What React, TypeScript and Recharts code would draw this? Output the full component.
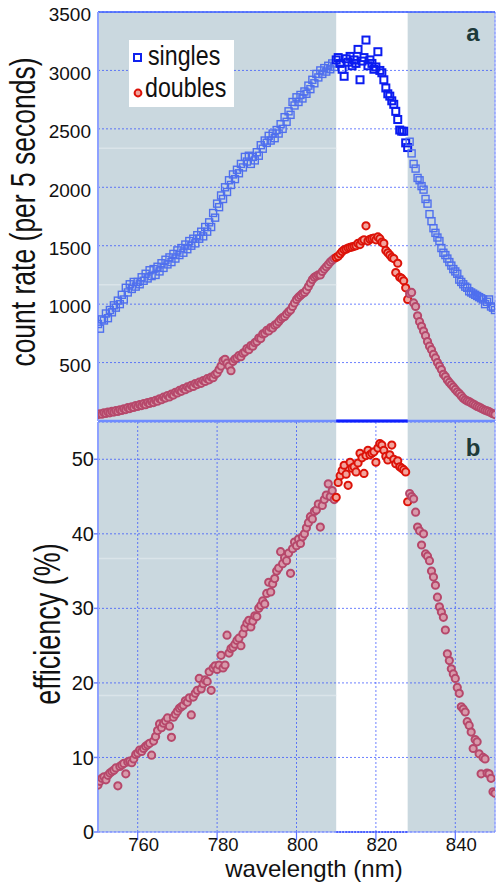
import React from 'react';
import {
  ScatterChart,
  Scatter,
  XAxis,
  YAxis,
  CartesianGrid,
  ReferenceArea,
  ReferenceLine,
} from 'recharts';

// wavelength in nm, one reading every half nm
const wavelength = [
  750, 750.5, 751, 751.5, 752, 752.5, 753, 753.5, 754, 754.5,
  755, 755.5, 756, 756.5, 757, 757.5, 758, 758.5, 759, 759.5,
  760, 760.5, 761, 761.5, 762, 762.5, 763, 763.5, 764, 764.5,
  765, 765.5, 766, 766.5, 767, 767.5, 768, 768.5, 769, 769.5,
  770, 770.5, 771, 771.5, 772, 772.5, 773, 773.5, 774, 774.5,
  775, 775.5, 776, 776.5, 777, 777.5, 778, 778.5, 779, 779.5,
  780, 780.5, 781, 781.5, 782, 782.5, 783, 783.5, 784, 784.5,
  785, 785.5, 786, 786.5, 787, 787.5, 788, 788.5, 789, 789.5,
  790, 790.5, 791, 791.5, 792, 792.5, 793, 793.5, 794, 794.5,
  795, 795.5, 796, 796.5, 797, 797.5, 798, 798.5, 799, 799.5,
  800, 800.5, 801, 801.5, 802, 802.5, 803, 803.5, 804, 804.5,
  805, 805.5, 806, 806.5, 807, 807.5, 808, 808.5, 809, 809.5,
  810, 810.5, 811, 811.5, 812, 812.5, 813, 813.5, 814, 814.5,
  815, 815.5, 816, 816.5, 817, 817.5, 818, 818.5, 819, 819.5,
  820, 820.5, 821, 821.5, 822, 822.5, 823, 823.5, 824, 824.5,
  825, 825.5, 826, 826.5, 827, 827.5, 828, 828.5, 829, 829.5,
  830, 830.5, 831, 831.5, 832, 832.5, 833, 833.5, 834, 834.5,
  835, 835.5, 836, 836.5, 837, 837.5, 838, 838.5, 839, 839.5,
  840, 840.5, 841, 841.5, 842, 842.5, 843, 843.5, 844, 844.5,
  845, 845.5, 846, 846.5, 847, 847.5, 848, 848.5, 849, 849.5,
  850,
];

// counts per 5 s
const singles = [
  830, 790, 870, 860, 920, 880, 950, 930, 990, 970,
  1030, 1000, 1080, 1040, 1140, 1100, 1170, 1130, 1190, 1150,
  1190, 1170, 1230, 1200, 1260, 1220, 1290, 1240, 1300, 1250,
  1320, 1280, 1350, 1310, 1380, 1340, 1400, 1360, 1430, 1390,
  1460, 1420, 1480, 1440, 1510, 1470, 1540, 1500, 1560, 1520,
  1590, 1560, 1620, 1580, 1660, 1620, 1700, 1660, 1780, 1740,
  1860, 1830, 1930, 1900, 2000, 1960, 2060, 2020, 2110, 2070,
  2150, 2120, 2200, 2170, 2260, 2220, 2270, 2200, 2260, 2230,
  2300, 2270, 2360, 2330, 2400, 2380, 2440, 2400, 2460, 2420,
  2490, 2460, 2540, 2500, 2600, 2560, 2650, 2620, 2730, 2700,
  2770, 2730, 2790, 2760, 2820, 2800, 2870, 2840, 2920, 2890,
  2970, 2940, 3000, 2970, 3020, 2990, 3040, 3010, 3060, 3030,
  3090, 3110, 3060, 3010, 2950, 3100, 3070, 3120, 3040, 3090,
  3060, 3180, 2920, 3080, 3110, 3260, 3040, 3090, 3060, 3010,
  3030, 3160, 3000, 2980, 2920, 2850, 2800, 2780, 2740, 2710,
  2650, 2580, 2490, 2480, 2480, 2380, 2340, 2390, 2290, 2200,
  2160, 2080, 2060, 2010, 1980, 1900, 1860, 1770, 1710, 1650,
  1610, 1570, 1540, 1480, 1440, 1420, 1390, 1360, 1330, 1300,
  1280, 1260, 1210, 1190, 1170, 1150, 1140, 1110, 1100, 1090,
  1080, 1070, 1060, 1050, 1040, 1000, 1020, 1040, 980, 970,
  950,
];

const doubles = [
  55, 62, 58, 70, 64, 76, 70, 82, 76, 88,
  82, 96, 90, 104, 98, 114, 106, 122, 116, 132,
  124, 140, 132, 148, 140, 158, 150, 166, 158, 176,
  170, 190, 182, 204, 196, 218, 206, 230, 222, 246,
  240, 262, 254, 278, 268, 292, 284, 306, 296, 320,
  312, 332, 322, 346, 338, 362, 352, 376, 370, 398,
  410, 440, 470, 515, 528, 495, 470, 430, 510, 530,
  540, 560, 550, 580, 590, 620, 610, 645, 640, 670,
  680, 710, 705, 745, 750, 775, 770, 800, 795, 820,
  830, 850, 870, 885, 895, 915, 935, 950, 980, 1010,
  1040, 1060, 1075, 1090, 1100, 1120, 1150, 1180, 1210, 1230,
  1240, 1250, 1250, 1280, 1300, 1320, 1340, 1360, 1375, 1390,
  1400, 1410, 1430, 1450, 1465, 1470, 1480, 1485, 1490, 1495,
  1500, 1520, 1510, 1540, 1550, 1670, 1540, 1555, 1560, 1565,
  1550, 1575, 1560, 1530, 1520, 1460, 1440, 1420, 1400, 1390,
  1270, 1350, 1230, 1220, 1200, 1140, 1040, 1090, 1100, 1010,
  980, 900, 850, 810, 770, 730, 680, 640, 610, 570,
  540, 500, 470, 440, 400, 380, 350, 330, 310, 290,
  270, 250, 235, 215, 195, 182, 172, 165, 155, 145,
  135, 125, 118, 110, 100, 92, 86, 80, 70, 62,
  55,
];

// percent
const efficiency = [
  6.3, 6.8, 7.2, 7.4, 7.0, 7.6, 7.9, 8.1, 8.3, 8.6,
  6.2, 8.8, 9.0, 9.2, 7.8, 9.4, 9.5, 9.3, 9.8, 10.4,
  10.6, 11.0, 10.8, 11.2, 11.5, 11.7, 11.9, 10.3, 12.2, 12.8,
  13.6, 14.5, 14.0, 14.6, 14.9, 15.3, 14.2, 12.7, 15.4, 15.8,
  16.2, 16.6, 16.8, 17.0, 17.6, 17.4, 18.0, 15.7, 18.1, 18.6,
  19.0, 20.6, 19.2, 19.9, 20.4, 20.2, 21.5, 19.0, 22.0, 22.3,
  21.8, 22.4, 23.7, 22.0, 22.4, 26.4, 24.0, 24.6, 24.8, 25.2,
  25.7, 26.0, 25.0, 26.6, 27.4, 28.0, 28.4, 27.5, 28.3, 29.0,
  28.9, 30.0, 30.4, 31.0, 30.6, 32.0, 33.5, 32.2, 33.3, 34.0,
  35.0, 35.4, 37.6, 36.0, 36.8, 36.4, 37.4, 34.7, 38.0, 38.9,
  38.4, 39.3, 38.7, 39.6, 40.0, 40.8, 41.5, 42.3, 42.0, 43.0,
  43.2, 44.0, 40.9, 43.8, 44.6, 45.2, 46.7, 45.0, 45.8, 44.6,
  44.9, 46.9, 47.8, 48.5, 49.2, 48.0, 46.5, 49.6, 48.8, 49.0,
  48.3, 49.5, 50.8, 50.2, 48.1, 50.5, 51.2, 50.6, 50.8, 51.0,
  49.6, 51.5, 52.1, 51.9, 51.2, 50.4, 49.9, 50.6, 51.9, 50.0,
  49.4, 49.8, 49.0, 48.8, 48.6, 48.3, 44.3, 45.4, 45.0, 44.7,
  42.9, 40.9, 40.4, 38.5, 40.0, 37.3, 37.0, 36.4, 35.0, 34.2,
  33.1, 31.5, 30.2, 29.5, 28.8, 27.1, 23.9, 23.0, 21.9, 21.2,
  20.6, 19.4, 18.6, 16.8, 16.5, 16.1, 14.8, 14.3, 13.4, 11.2,
  12.4, 12.1, 10.5, 7.8, 10.0, 9.8, 7.9, 7.8, 7.2, 5.4,
  5.2,
];

const xTicks = [760, 780, 800, 820, 840];
const countTicks = [500, 1000, 1500, 2000, 2500, 3000, 3500];
const effTicks = [0, 10, 20, 30, 40, 50];
const band = [810, 828]; // unshaded window

const singlesData = wavelength.map((x, i) => ({ x, y: singles[i] }));
const doublesData = wavelength.map((x, i) => ({ x, y: doubles[i] }));
const effData = wavelength.map((x, i) => ({ x, y: efficiency[i] }));

const FONT = '"Liberation Sans", Arial, Helvetica, sans-serif';
const SHADE = '#cad8df';
const GRID = '#2f4cff';
const FAINT = '#dae4e9';

const inBand = (x: number) => x >= band[0] && x <= band[1];

function SquareDot(props: any) {
  const { cx, cy, payload } = props;
  if (cx == null || cy == null) return null;
  const hot = inBand(payload.x);
  return (
    <rect
      x={cx - 3.5}
      y={cy - 3.5}
      width={7}
      height={7}
      fill="none"
      stroke={hot ? '#0b1cf0' : '#4f6fee'}
      strokeWidth={hot ? 2 : 1.4}
    />
  );
}

function RingDot(props: any) {
  const { cx, cy, payload } = props;
  if (cx == null || cy == null) return null;
  const hot = inBand(payload.x);
  return (
    <circle
      cx={cx}
      cy={cy}
      r={3.6}
      fill={hot ? '#f2a49c' : '#d89aab'}
      stroke={hot ? '#dc1309' : '#b6486b'}
      strokeWidth={2}
    />
  );
}

const CountTick = ({ x, y, payload }: any) => (
  <text x={x} y={y + 2.5} dy="0.355em" textAnchor="end" fontSize={19} fill="#111" fontFamily={FONT}>
    {payload.value}
  </text>
);

const EffTick = ({ x, y, payload }: any) => (
  <text x={x} y={y} dy="0.355em" textAnchor="end" fontSize={20} fill="#111" fontFamily={FONT}>
    {payload.value}
  </text>
);

const WaveTick = ({ x, y, payload }: any) => (
  <text x={x + 6} y={y - 2.5} dy="0.71em" textAnchor="middle" fontSize={18.5} fill="#111" fontFamily={FONT}>
    {payload.value}
  </text>
);

export default function App() {
  return (
    <div
      style={{
        position: 'absolute',
        left: 0,
        top: 0,
        width: 499,
        height: 882,
        background: '#fff',
        overflow: 'hidden',
        fontFamily: FONT,
      }}
    >
      {/* panel b (drawn first so panel a's divider sits on top) */}
      <div style={{ position: 'absolute', left: 0, top: 420 }}>
        <ScatterChart width={499} height={462} margin={{ top: 2, right: 4, bottom: 0, left: 0 }}>
          <ReferenceArea x1={750} x2={band[0]} y1={0} y2={55} fill={SHADE} fillOpacity={1} stroke="none" zIndex={-200} />
          <ReferenceArea x1={band[1]} x2={850} y1={0} y2={55} fill={SHADE} fillOpacity={1} stroke="none" zIndex={-200} />
          <ReferenceLine segment={[{ x: 750, y: 18.3 }, { x: band[0], y: 18.3 }]} stroke={FAINT} strokeWidth={1.5} zIndex={-150} />
          <ReferenceLine segment={[{ x: 750, y: 36.7 }, { x: band[0], y: 36.7 }]} stroke={FAINT} strokeWidth={1.5} zIndex={-150} />
          <CartesianGrid stroke={GRID} strokeOpacity={0.7} strokeDasharray="2 2" />
          <XAxis
            type="number"
            dataKey="x"
            domain={[750, 850]}
            ticks={xTicks}
            height={50}
            tickSize={8}
            tickMargin={0}
            tick={WaveTick}
            axisLine={{ stroke: '#7f92ff', strokeWidth: 1.2 }}
            tickLine={{ stroke: '#5d72ff', strokeWidth: 1.2 }}
            allowDataOverflow
          />
          <YAxis
            type="number"
            dataKey="y"
            domain={[0, 55]}
            ticks={effTicks}
            width={98}
            tickSize={4}
            tickMargin={0}
            tick={EffTick}
            axisLine={{ stroke: '#8ea1ff', strokeWidth: 2 }}
            tickLine={{ stroke: '#6f86ff', strokeWidth: 1.5 }}
            allowDataOverflow
          />
          <ReferenceLine x={850} stroke="#9fb0ff" strokeWidth={1.2} />
          <ReferenceLine
            segment={[{ x: band[0], y: 0 }, { x: band[1], y: 0 }]}
            stroke="#1a2dff"
            strokeWidth={2}
            strokeDasharray="2 1"
          />
          <Scatter data={effData} shape={RingDot} isAnimationActive={false} />
        </ScatterChart>
      </div>

      {/* panel a */}
      <div style={{ position: 'absolute', left: 0, top: 0 }}>
        <ScatterChart width={499} height={424} margin={{ top: 0, right: 4, bottom: 3, left: 0 }}>
          <ReferenceArea x1={750} x2={band[0]} y1={0} y2={3500} fill={SHADE} fillOpacity={1} stroke="none" zIndex={-200} />
          <ReferenceArea x1={band[1]} x2={850} y1={0} y2={3500} fill={SHADE} fillOpacity={1} stroke="none" zIndex={-200} />
          <ReferenceLine segment={[{ x: 750, y: 1167 }, { x: band[0], y: 1167 }]} stroke={FAINT} strokeWidth={1.5} zIndex={-150} />
          <ReferenceLine segment={[{ x: 750, y: 2333 }, { x: band[0], y: 2333 }]} stroke={FAINT} strokeWidth={1.5} zIndex={-150} />
          <CartesianGrid stroke={GRID} strokeOpacity={0.7} strokeDasharray="2 2" />
          <XAxis
            type="number"
            dataKey="x"
            orientation="top"
            domain={[750, 850]}
            ticks={xTicks}
            height={12}
            tickSize={7}
            tick={false}
            axisLine={{ stroke: '#3a5cff', strokeWidth: 1.5 }}
            tickLine={{ stroke: '#3a5cff', strokeWidth: 1.5 }}
            allowDataOverflow
          />
          <YAxis
            type="number"
            dataKey="y"
            domain={[0, 3500]}
            ticks={countTicks}
            width={98}
            tickSize={0}
            tickMargin={7}
            tickLine={false}
            tick={CountTick}
            axisLine={{ stroke: '#8ea1ff', strokeWidth: 2 }}
            allowDataOverflow
          />
          <ReferenceLine x={850} stroke="#9fb0ff" strokeWidth={1.2} />
          <ReferenceLine y={0} stroke="#6f8cff" strokeWidth={2.5} />
          <ReferenceLine
            segment={[{ x: band[0], y: 0 }, { x: band[1], y: 0 }]}
            stroke="#1020ff"
            strokeWidth={3}
          />
          <Scatter data={singlesData} shape={SquareDot} isAnimationActive={false} />
          <Scatter data={doublesData} shape={RingDot} isAnimationActive={false} />
        </ScatterChart>
      </div>

      {/* titles, legend and panel letters */}
      <svg
        width={499}
        height={882}
        style={{ position: 'absolute', left: 0, top: 0, pointerEvents: 'none' }}
        fontFamily={FONT}
      >
        <g>
          <rect x={129} y={40} width={105} height={67} fill="#fff" />
          <rect x={134} y={54} width={7} height={7} fill="none" stroke="#1022ee" strokeWidth={2} />
          <text transform="translate(148,65) scale(0.86,1)" fontSize={27} fill="#111">singles</text>
          <circle cx={138} cy={93} r={3.4} fill="#f2a49c" stroke="#dc1309" strokeWidth={2} />
          <text transform="translate(145,97) scale(0.86,1)" fontSize={27} fill="#111">doubles</text>
        </g>
        <text x={473} y={41} textAnchor="middle" fontSize={24} fontWeight="bold" fill="#1d3a3a">a</text>
        <text x={473} y={456} textAnchor="middle" fontSize={24} fontWeight="bold" fill="#1d3a3a">b</text>
        <text transform="translate(35,212) rotate(-90) scale(1,1.35)" textAnchor="middle" fontSize={26.5} fill="#111">
          count rate (per 5 seconds)
        </text>
        <text transform="translate(60,624) rotate(-90) scale(1,1.4)" textAnchor="middle" fontSize={27} fill="#111">
          efficiency (%)
        </text>
        <text x={314} y={876.5} textAnchor="middle" fontSize={24} fill="#111">
          wavelength (nm)
        </text>
      </svg>
    </div>
  );
}
